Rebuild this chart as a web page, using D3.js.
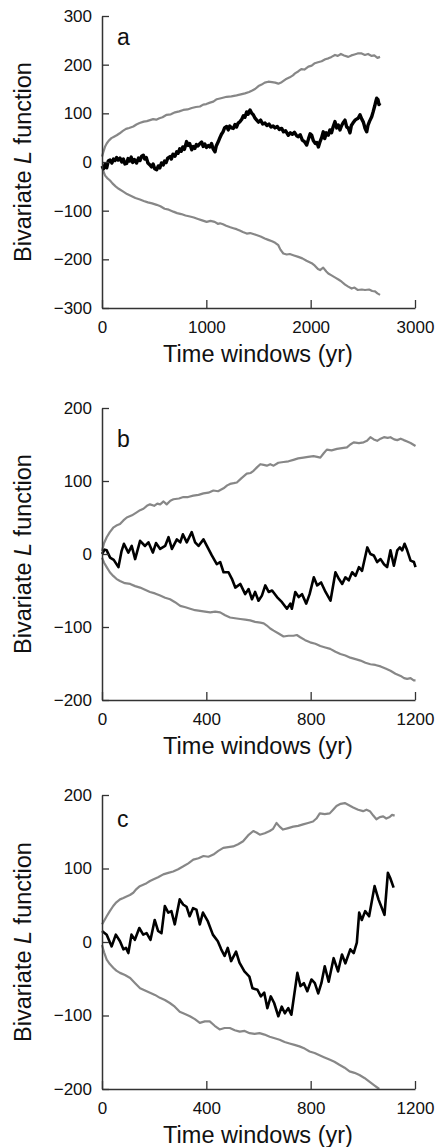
<!DOCTYPE html>
<html>
<head>
<meta charset="utf-8">
<script src="https://cdn.jsdelivr.net/npm/d3@7"></script>
<style>
  body { margin: 0; background: #fff; }
  text { font-family: "Liberation Sans", Arial, sans-serif; fill: #111; }
</style>
</head>
<body>
<div id="chart"></div>
<script>
// ---- data: [time window (yr), L value] ----
var aObserved = [[0,-8],[15,-14],[30,-4],[45,-12],[60,2],[77,4],[95,-2],[110,6],[125,3],[140,9],[155,4],[172,8],[190,0],[205,6],[220,-4],[236,-3],[250,7],[265,2],[280,10],[295,-1],[310,5],[332,-2],[350,8],[365,3],[380,12],[396,14],[410,6],[425,9],[440,-2],[460,-6],[475,-10],[490,-4],[505,-14],[524,-16],[540,-8],[555,-12],[570,-2],[587,-6],[600,2],[615,-1],[630,8],[652,11],[665,6],[680,16],[700,12],[716,21],[730,18],[745,27],[760,22],[775,31],[790,26],[811,42],[825,34],[840,38],[860,25],[875,32],[890,28],[905,36],[920,33],[939,38],[955,41],[970,32],[985,37],[1000,30],[1020,34],[1035,31],[1050,38],[1065,27],[1083,21],[1095,33],[1115,42],[1130,50],[1145,57],[1160,62],[1175,70],[1195,73],[1210,66],[1225,74],[1240,70],[1259,69],[1275,77],[1290,72],[1305,80],[1323,83],[1340,88],[1355,95],[1370,92],[1387,103],[1400,98],[1419,107],[1435,100],[1450,97],[1467,90],[1483,86],[1500,82],[1520,86],[1540,78],[1562,80],[1580,75],[1600,78],[1620,72],[1640,74],[1658,70],[1680,73],[1700,67],[1722,69],[1740,62],[1760,64],[1786,55],[1805,60],[1825,57],[1845,61],[1865,54],[1882,52],[1900,56],[1920,45],[1940,42],[1962,35],[1980,48],[1995,58],[2010,55],[2025,44],[2045,38],[2060,40],[2074,31],[2090,42],[2105,50],[2121,62],[2135,48],[2150,60],[2169,55],[2185,66],[2200,60],[2215,72],[2233,83],[2250,70],[2265,76],[2281,66],[2295,74],[2310,80],[2329,86],[2345,72],[2360,70],[2377,60],[2390,75],[2405,80],[2425,86],[2440,88],[2455,90],[2473,97],[2490,88],[2505,82],[2520,70],[2537,62],[2550,76],[2565,84],[2585,93],[2600,104],[2615,116],[2625,125],[2633,131],[2645,128],[2655,118],[2665,121]];
var aUpper = [[0,11],[15,22],[30,32],[45,38],[65,44],[90,49],[115,52],[141,55],[170,59],[200,64],[230,68],[260,70],[300,73],[330,77],[360,80],[400,83],[430,84],[460,86],[490,88],[520,87],[550,90],[580,92],[620,97],[660,98],[700,102],[740,104],[779,107],[820,108],[860,111],[900,113],[939,114],[970,118],[1000,119],[1035,122],[1067,124],[1100,129],[1140,131],[1195,134],[1240,135],[1290,137],[1330,139],[1370,141],[1410,144],[1440,147],[1467,150],[1500,156],[1530,159],[1560,163],[1594,165],[1630,164],[1660,163],[1690,161],[1722,164],[1760,170],[1800,174],[1830,178],[1850,182],[1880,186],[1910,191],[1940,190],[1978,196],[2010,198],[2040,203],[2070,205],[2105,207],[2140,211],[2170,213],[2200,216],[2233,220],[2260,218],[2290,222],[2320,219],[2361,216],[2390,219],[2420,221],[2450,223],[2489,223],[2520,220],[2550,222],[2585,218],[2610,219],[2640,214],[2665,216]];
var aLower = [[0,-10],[15,-20],[30,-28],[50,-33],[77,-38],[100,-44],[130,-50],[160,-55],[204,-61],[240,-66],[280,-70],[320,-74],[364,-77],[400,-80],[440,-83],[480,-85],[524,-88],[560,-91],[600,-96],[640,-98],[684,-102],[720,-105],[760,-107],[800,-110],[843,-112],[880,-114],[920,-117],[960,-120],[1003,-123],[1040,-121],[1080,-123],[1110,-127],[1131,-126],[1160,-128],[1190,-131],[1230,-134],[1259,-136],[1290,-138],[1320,-141],[1350,-144],[1387,-147],[1420,-146],[1450,-148],[1480,-150],[1520,-153],[1560,-157],[1594,-160],[1630,-163],[1660,-166],[1690,-171],[1710,-180],[1738,-188],[1770,-190],[1800,-189],[1840,-192],[1882,-195],[1920,-198],[1960,-203],[2010,-208],[2040,-213],[2070,-220],[2090,-222],[2120,-217],[2150,-225],[2169,-229],[2200,-233],[2240,-238],[2270,-242],[2297,-246],[2330,-252],[2360,-256],[2393,-260],[2420,-258],[2450,-263],[2490,-262],[2521,-263],[2560,-262],[2590,-265],[2617,-266],[2640,-270],[2665,-273]];

var bObserved = [[0,0],[10,6],[18,5],[31,-5],[45,-8],[63,-18],[75,4],[84,14],[101,2],[114,11],[127,-7],[146,18],[165,11],[178,16],[195,2],[207,15],[223,7],[242,11],[255,23],[268,7],[287,20],[300,16],[310,27],[325,16],[344,30],[357,16],[370,11],[389,20],[402,11],[421,-2],[440,-14],[453,-11],[466,-25],[485,-25],[498,-34],[511,-46],[530,-41],[549,-55],[562,-48],[575,-62],[587,-52],[600,-64],[613,-57],[626,-43],[639,-52],[652,-50],[671,-59],[690,-66],[709,-75],[722,-68],[728,-75],[741,-52],[754,-59],[767,-55],[783,-68],[796,-55],[812,-32],[825,-43],[840,-39],[857,-52],[876,-64],[895,-25],[908,-34],[921,-41],[933,-32],[946,-36],[959,-25],[972,-30],[985,-18],[997,-23],[1017,9],[1029,0],[1042,-2],[1055,-11],[1068,-7],[1081,-14],[1093,-18],[1106,5],[1119,-16],[1132,5],[1142,9],[1151,5],[1160,14],[1170,5],[1183,-9],[1196,-11],[1202,-18]];
var bUpper = [[0,4],[8,15],[18,23],[30,30],[43,36],[55,39],[69,41],[82,46],[95,50],[115,53],[133,57],[146,60],[159,62],[172,66],[184,68],[200,66],[212,69],[223,68],[236,72],[248,68],[262,73],[274,75],[295,76],[312,78],[330,78],[350,80],[370,81],[389,83],[408,84],[427,87],[445,86],[466,90],[480,94],[491,96],[505,97],[517,98],[535,104],[555,110],[570,111],[581,114],[595,119],[607,123],[620,122],[632,121],[645,123],[658,121],[676,125],[696,126],[715,127],[734,129],[752,131],[772,132],[790,133],[811,134],[825,133],[837,132],[850,138],[862,143],[880,142],[901,144],[920,145],[939,146],[952,150],[965,153],[985,152],[1003,153],[1016,155],[1029,160],[1042,157],[1055,155],[1068,158],[1081,160],[1095,159],[1106,160],[1120,157],[1132,156],[1145,158],[1157,156],[1170,154],[1183,152],[1202,148]];
var bLower = [[0,-5],[8,-12],[18,-18],[30,-25],[43,-30],[55,-34],[69,-37],[88,-40],[108,-41],[127,-44],[146,-46],[165,-49],[184,-52],[203,-54],[223,-57],[242,-60],[261,-62],[280,-66],[300,-71],[320,-73],[338,-75],[357,-77],[376,-78],[395,-79],[415,-80],[434,-79],[453,-80],[472,-84],[491,-87],[510,-88],[530,-89],[549,-90],[568,-91],[587,-93],[607,-94],[620,-95],[632,-98],[645,-102],[658,-105],[677,-109],[696,-113],[715,-112],[734,-112],[747,-111],[760,-114],[779,-118],[798,-121],[818,-123],[837,-126],[856,-128],[875,-130],[895,-134],[914,-137],[933,-139],[952,-142],[972,-144],[991,-146],[1010,-149],[1029,-151],[1048,-152],[1068,-154],[1087,-157],[1106,-160],[1125,-164],[1145,-167],[1158,-170],[1170,-171],[1183,-170],[1195,-173],[1202,-173]];

var cObserved = [[0,15],[18,10],[37,-6],[53,10],[69,1],[82,-10],[92,-8],[101,-15],[113,10],[126,3],[143,19],[158,10],[171,12],[186,3],[202,30],[215,15],[228,12],[241,49],[254,40],[266,42],[279,24],[298,58],[311,51],[324,48],[336,35],[349,46],[362,44],[375,24],[387,40],[406,28],[425,10],[444,1],[457,-10],[470,-19],[482,-8],[495,-26],[514,-13],[527,-28],[546,-40],[565,-47],[577,-63],[596,-65],[609,-74],[622,-69],[634,-90],[647,-74],[660,-83],[676,-101],[689,-88],[701,-97],[714,-90],[726,-99],[749,-42],[761,-60],[774,-56],[787,-67],[803,-51],[816,-56],[829,-70],[841,-56],[854,-33],[869,-54],[888,-22],[905,-40],[920,-17],[933,-29],[952,-10],[965,-15],[977,-1],[986,40],[996,30],[1009,42],[1024,35],[1045,76],[1060,58],[1083,37],[1096,94],[1105,87],[1118,74]];
var cUpper = [[0,24],[10,30],[18,35],[30,42],[43,49],[55,54],[69,58],[82,60],[94,62],[107,64],[120,67],[132,72],[145,76],[158,78],[171,80],[184,83],[196,85],[215,88],[235,92],[254,94],[273,96],[292,99],[312,103],[331,107],[350,112],[370,114],[389,117],[408,116],[427,119],[446,124],[465,128],[484,129],[503,130],[522,133],[541,137],[560,145],[580,151],[592,149],[605,146],[624,148],[643,151],[656,154],[669,162],[681,157],[694,153],[714,155],[733,157],[752,158],[771,160],[790,162],[809,164],[822,168],[835,175],[854,174],[873,175],[886,180],[899,185],[915,188],[931,189],[947,186],[963,183],[982,180],[1001,178],[1014,180],[1027,178],[1040,172],[1052,167],[1065,170],[1078,171],[1090,168],[1103,170],[1112,173],[1122,172]];
var cLower = [[0,-4],[8,-14],[18,-24],[30,-30],[43,-35],[55,-39],[69,-42],[88,-45],[108,-49],[127,-56],[146,-63],[165,-66],[184,-69],[203,-72],[222,-76],[241,-79],[260,-83],[279,-88],[298,-95],[318,-98],[337,-101],[356,-105],[375,-110],[394,-108],[413,-108],[432,-114],[451,-119],[470,-117],[490,-117],[509,-120],[528,-122],[547,-121],[566,-124],[585,-125],[604,-124],[623,-126],[643,-129],[662,-131],[681,-133],[700,-136],[719,-138],[738,-140],[757,-142],[777,-145],[796,-149],[815,-151],[834,-154],[853,-157],[872,-160],[891,-163],[910,-167],[930,-171],[949,-176],[968,-178],[987,-181],[1006,-185],[1025,-190],[1044,-195],[1063,-200]];

var aXTicks = [0, 1000, 2000, 3000];
var aYTicks = [-300, -200, -100, 0, 100, 200, 300];
var bcXTicks = [0, 400, 800, 1200];
var bcYTicks = [-200, -100, 0, 100, 200];
var panelLetters = ["a", "b", "c"];
var xTitle = "Time windows (yr)";

// ---- drawing ----
var W = 439, H = 1147;
var left = 102, right = 415;
var fmt = d3.format("d"); // no thousands separator

var svg = d3.select("#chart").append("svg")
    .attr("width", W)
    .attr("height", H)
    .style("background", "#fff");

var panels = [
  {top: 16,  bottom: 308,  xMax: 3000, yMin: -300, yMax: 300, xTicks: aXTicks,  yTicks: aYTicks,
   series: [aUpper, aLower, aObserved], obsWidth: 3.4, letterY: 45},
  {top: 408, bottom: 700,  xMax: 1200, yMin: -200, yMax: 200, xTicks: bcXTicks, yTicks: bcYTicks,
   series: [bUpper, bLower, bObserved], obsWidth: 2.6, letterY: 447},
  {top: 795, bottom: 1089, xMax: 1200, yMin: -200, yMax: 200, xTicks: bcXTicks, yTicks: bcYTicks,
   series: [cUpper, cLower, cObserved], obsWidth: 2.6, letterY: 827}
];

panels.forEach(function(p, i) {
  var g = svg.append("g");

  var x = d3.scaleLinear().domain([0, p.xMax]).range([left, right]);
  var y = d3.scaleLinear().domain([p.yMin, p.yMax]).range([p.bottom, p.top]);

  var line = d3.line()
      .x(function(d) { return x(d[0]); })
      .y(function(d) { return y(d[1]); });

  // envelopes first, observed on top
  p.series.forEach(function(s, k) {
    g.append("path")
      .datum(s)
      .attr("fill", "none")
      .attr("stroke", k < 2 ? "#878787" : "#000")
      .attr("stroke-width", k < 2 ? 2.2 : p.obsWidth)
      .attr("stroke-linejoin", "round")
      .attr("d", line);
  });

  // y axis, ticks pointing inward
  var yAxis = g.append("g")
      .attr("transform", "translate(" + left + ",0)")
      .call(d3.axisLeft(y).tickValues(p.yTicks).tickFormat(fmt)
        .tickSizeInner(-7).tickSizeOuter(0).tickPadding(10));

  // x axis, ticks pointing inward
  var xAxis = g.append("g")
      .attr("transform", "translate(0," + p.bottom + ")")
      .call(d3.axisBottom(x).tickValues(p.xTicks).tickFormat(fmt)
        .tickSizeInner(-8).tickSizeOuter(0).tickPadding(13));

  [yAxis, xAxis].forEach(function(ax) {
    ax.select(".domain").attr("stroke", "#333").attr("stroke-width", 1.5);
    ax.selectAll(".tick line").attr("stroke", "#333").attr("stroke-width", 1.3);
    ax.selectAll("text")
      .style("font-family", '"Liberation Sans", Arial, sans-serif')
      .style("font-size", "17px")
      .attr("fill", "#111");
  });

  // axis titles
  var cy = (p.top + p.bottom) / 2;
  var yt = g.append("text")
      .attr("transform", "translate(31," + cy + ") rotate(-90)")
      .attr("text-anchor", "middle")
      .style("font-size", "23.5px");
  yt.append("tspan").text("Bivariate ");
  yt.append("tspan").style("font-style", "italic").text("L");
  yt.append("tspan").text(" function");

  g.append("text")
      .attr("x", 258)
      .attr("y", p.bottom + 54)
      .attr("text-anchor", "middle")
      .style("font-size", "23.5px")
      .text(xTitle);

  g.append("text")
      .attr("x", 117)
      .attr("y", p.letterY)
      .style("font-size", "23px")
      .text(panelLetters[i]);
});
</script>
</body>
</html>
